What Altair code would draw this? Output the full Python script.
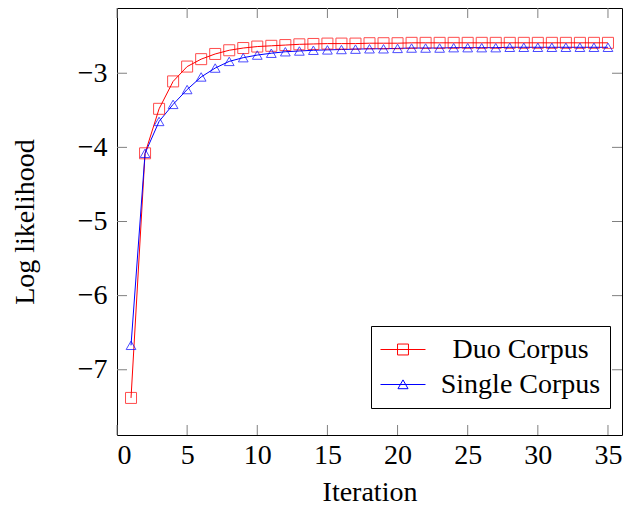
import altair as alt
import pandas as pd

iterations = list(range(1, 36))
duo = [-7.38, -4.08, -3.48, -3.11, -2.91, -2.81, -2.74, -2.69, -2.66, -2.64,
       -2.63, -2.62, -2.61, -2.605, -2.60, -2.60, -2.60, -2.595, -2.595, -2.595,
       -2.59, -2.59, -2.59, -2.59, -2.59, -2.59, -2.59, -2.59, -2.59, -2.59,
       -2.59, -2.59, -2.59, -2.59, -2.59]
single = [-6.67, -4.08, -3.65, -3.42, -3.22, -3.05, -2.93, -2.84, -2.79, -2.755,
          -2.73, -2.71, -2.70, -2.69, -2.685, -2.68, -2.675, -2.67, -2.67, -2.665,
          -2.66, -2.66, -2.66, -2.655, -2.655, -2.655, -2.655, -2.65, -2.65, -2.65,
          -2.65, -2.65, -2.65, -2.65, -2.65]
series_names = ["Duo Corpus", "Single Corpus"]
series_colors = ["#ff0000", "#0000ff"]
x_ticks = [0, 5, 10, 15, 20, 25, 30, 35]
y_ticks = [-7, -6, -5, -4, -3]
x_domain = [0, 36]
y_domain = [-7.88, -2.12]

W, H = 505, 427
FONT = "Liberation Serif"
FS = 28
TICK = 10

df = pd.DataFrame({
    "Iteration": iterations * 2,
    "value": duo + single,
    "series": [series_names[0]] * len(duo) + [series_names[1]] * len(single),
})
xt = pd.DataFrame({"t": x_ticks})
yt = pd.DataFrame({"t": y_ticks})

xs = alt.Scale(domain=x_domain, nice=False, zero=False)
ys = alt.Scale(domain=y_domain, nice=False, zero=False)

common = dict(ticks=False, tickSize=0, domain=False, grid=False,
              labelFont=FONT, labelFontSize=FS, labelColor="black",
              titleFont=FONT, titleFontSize=FS, titleFontWeight="normal",
              titleColor="black")

x_axis = alt.Axis(values=x_ticks, format="d", labelPadding=28, labelBaseline="alphabetic",
                  title="Iteration", titleX=W / 2, titleY=65, titleBaseline="alphabetic",
                  **common)
y_axis = alt.Axis(values=y_ticks, format="d", labelPadding=10, labelBaseline="middle",
                  title="Log likelihood", titleX=-84, titleY=H / 2,
                  titleBaseline="alphabetic", titleAngle=-90, **common)

# legend symbol: a line with the marker in its middle (coordinates scaled by r = 14 px)
sym_expr = ("datum.value === 'Duo Corpus' ? "
            "'M-1.607,0H1.607M-0.39,-0.39H0.39V0.39H-0.39Z' : "
            "'M-1.607,0H1.607M0,-0.33L0.36,0.3H-0.36Z'")

legend = alt.Legend(
    title=None, orient="none", legendX=254, legendY=318,
    strokeColor="black", fillColor="white", padding=9, cornerRadius=0,
    labelFont=FONT, labelFontSize=FS, labelColor="black",
    labelAlign="center", labelOffset=103,
    symbolSize=784, symbolOffset=8.5, symbolStrokeWidth=1,
    symbolFillColor="transparent", symbolType={"expr": sym_expr},
    rowPadding=6,
)

base = alt.Chart(df)

lines = base.mark_line(strokeWidth=1, clip=True).encode(
    x=alt.X("Iteration:Q", scale=xs, axis=x_axis),
    y=alt.Y("value:Q", scale=ys, axis=y_axis),
    color=alt.Color("series:N", scale=alt.Scale(domain=series_names, range=series_colors),
                    legend=legend),
)

pts_duo = base.transform_filter(alt.datum.series == series_names[0]).mark_point(
    shape="square", filled=False, size=121, strokeWidth=1, color=series_colors[0]
).encode(x=alt.X("Iteration:Q", scale=xs, axis=x_axis),
         y=alt.Y("value:Q", scale=ys, axis=y_axis))

pts_single = base.transform_filter(alt.datum.series == series_names[1]).mark_point(
    shape="triangle-up", filled=False, size=95, strokeWidth=1, color=series_colors[1]
).encode(x=alt.X("Iteration:Q", scale=xs, axis=x_axis),
         y=alt.Y("value:Q", scale=ys, axis=y_axis))

tick_color = "#808080"
top_ticks = alt.Chart(xt).mark_rule(color=tick_color, strokeWidth=1).encode(
    x=alt.X("t:Q", scale=xs, axis=x_axis), y=alt.value(0), y2=alt.value(TICK))
bot_ticks = alt.Chart(xt).mark_rule(color=tick_color, strokeWidth=1).encode(
    x=alt.X("t:Q", scale=xs, axis=x_axis), y=alt.value(H), y2=alt.value(H - TICK))
left_ticks = alt.Chart(yt).mark_rule(color=tick_color, strokeWidth=1).encode(
    y=alt.Y("t:Q", scale=ys, axis=y_axis), x=alt.value(0), x2=alt.value(TICK))
right_ticks = alt.Chart(yt).mark_rule(color=tick_color, strokeWidth=1).encode(
    y=alt.Y("t:Q", scale=ys, axis=y_axis), x=alt.value(W), x2=alt.value(W - TICK))

chart = alt.layer(
    lines, top_ticks, bot_ticks, left_ticks, right_ticks, pts_duo, pts_single
).properties(
    width=W, height=H, background="white",
    autosize=alt.AutoSizeParams(type="none"),
    padding={"left": 109, "top": 0, "right": 6, "bottom": 72},
).configure_axis(**common).configure_view(stroke="black", strokeWidth=1)

chart.save("out.html", embed_options={"renderer": "svg", "actions": False})
